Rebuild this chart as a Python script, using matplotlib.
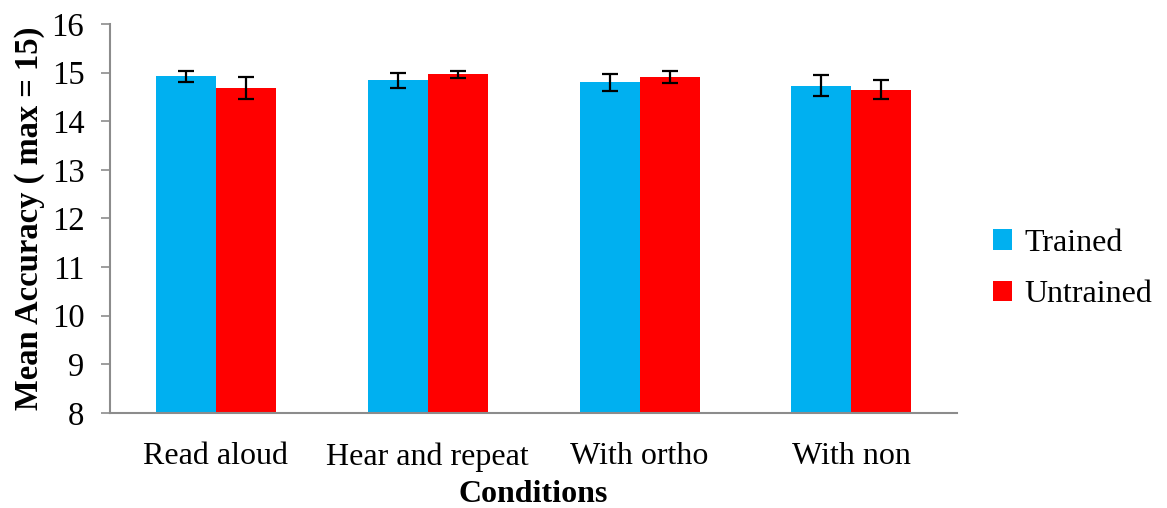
import numpy as np
import matplotlib
matplotlib.use("Agg")
import matplotlib.pyplot as plt

conditions = ["Read aloud", "Hear and repeat", "With ortho", "With non"]
trained = [14.92, 14.84, 14.80, 14.73]
trained_err = [0.12, 0.15, 0.17, 0.21]
untrained = [14.68, 14.96, 14.91, 14.65]
untrained_err = [0.22, 0.08, 0.12, 0.20]

plt.rcParams["font.family"] = ["Liberation Serif", "DejaVu Serif"]

fig = plt.figure(figsize=(11.67, 5.08), dpi=100)
ax = fig.add_axes([0.0943, 0.187, 0.726, 0.766])

x = np.arange(len(conditions))
w = 0.283
err_kw = dict(ecolor="black", elinewidth=1.6, capsize=5.5, capthick=1.6)
ax.bar(x - w / 2, trained, w, yerr=trained_err, color="#00B0F0",
       label="Trained", error_kw=err_kw)
ax.bar(x + w / 2, untrained, w, yerr=untrained_err, color="#FF0000",
       label="Untrained", error_kw=err_kw)

ax.set_ylim(8, 16)
ax.set_xlim(-0.5, len(conditions) - 0.5)
ax.set_yticks(range(8, 17))
ax.set_xticks(x)
ax.set_xticklabels(conditions)
ax.tick_params(axis="y", labelsize=23.5, length=6.5, width=1.2, color="#8c8c8c", pad=12)
ax.tick_params(axis="x", labelsize=23, length=0, pad=21)

for side in ["top", "right"]:
    ax.spines[side].set_visible(False)
for side in ["left", "bottom"]:
    ax.spines[side].set_color("#8c8c8c")
    ax.spines[side].set_linewidth(1.5)

ax.set_ylabel("Mean Accuracy ( max = 15)", fontsize=23.5, fontweight="bold", labelpad=5)
ax.set_xlabel("Conditions", fontsize=23, fontweight="bold", labelpad=6)

ax.legend(loc="center left", bbox_to_anchor=(1.008, 0.37), frameon=False,
          fontsize=23, handlelength=0.6, handleheight=0.6, handletextpad=0.4,
          labelspacing=0.7)

fig.savefig("out.png", dpi=100)
